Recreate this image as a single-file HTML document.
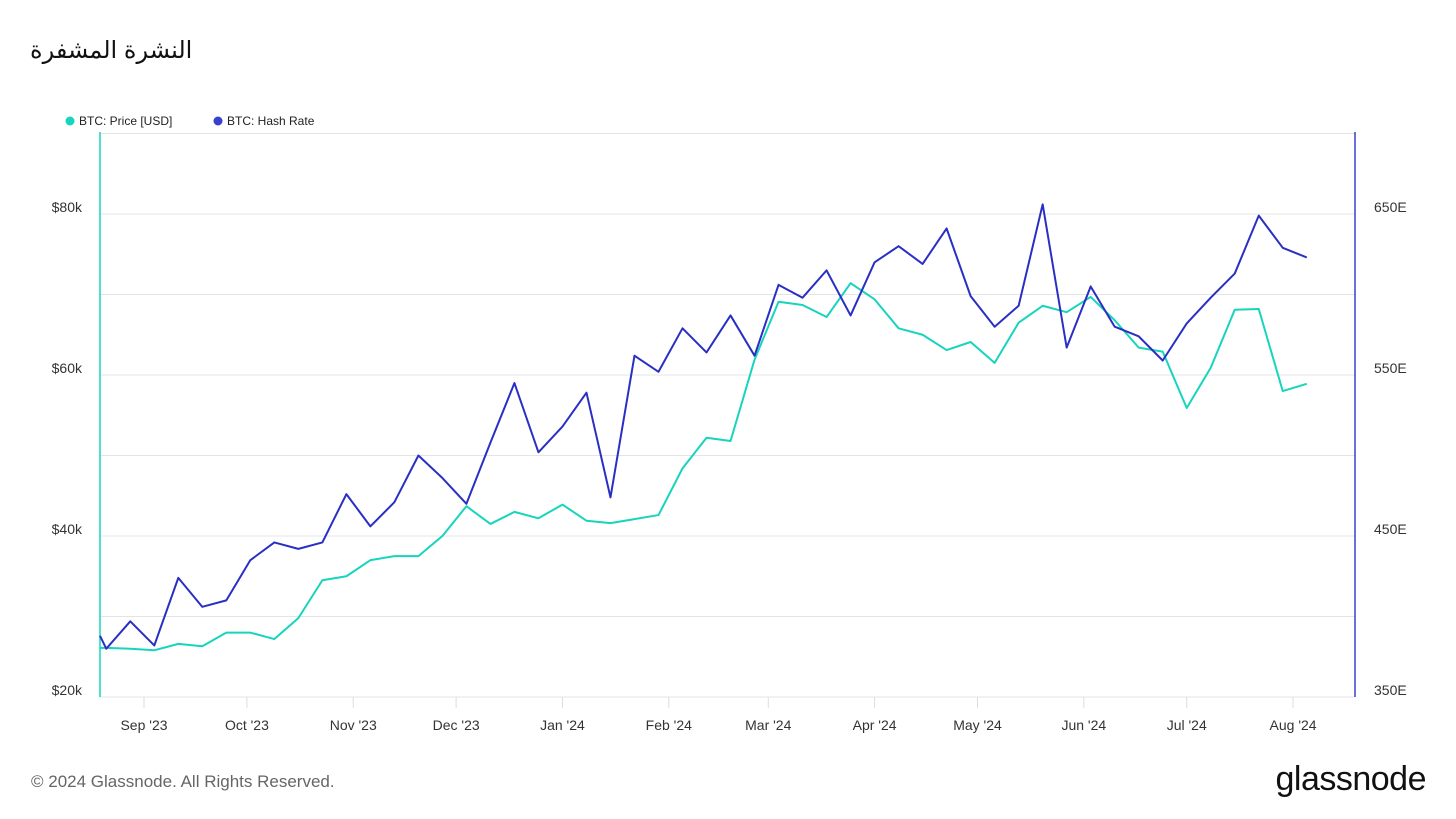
<!DOCTYPE html>
<html><head><meta charset="utf-8">
<style>
body{margin:0;background:#fff;font-family:"Liberation Sans",sans-serif;}
#wrap{position:relative;width:1456px;height:819px;overflow:hidden;}
.title{position:absolute;left:30px;top:36px;font-size:24px;color:#111;font-family:"Liberation Sans","DejaVu Sans",sans-serif;}
.foot{position:absolute;left:31px;top:772px;font-size:17px;color:#666;}
.logo{position:absolute;right:30px;top:760px;font-size:34px;color:#111;letter-spacing:-0.5px;}
</style></head><body>
<div id="wrap">
<div class="title" dir="rtl">النشرة المشفرة</div>
<svg id="svg" width="1456" height="819" style="position:absolute;left:0;top:0"></svg>
<div class="foot">© 2024 Glassnode. All Rights Reserved.</div>
<div class="logo">glassnode</div>
</div>
<script>
const dates=["2023-08-19","2023-08-21","2023-08-28","2023-09-04","2023-09-11","2023-09-18","2023-09-25","2023-10-02","2023-10-09","2023-10-16","2023-10-23","2023-10-30","2023-11-06","2023-11-13","2023-11-20","2023-11-27","2023-12-04","2023-12-11","2023-12-18","2023-12-25","2024-01-01","2024-01-08","2024-01-15","2024-01-22","2024-01-29","2024-02-05","2024-02-12","2024-02-19","2024-02-26","2024-03-04","2024-03-11","2024-03-18","2024-03-25","2024-04-01","2024-04-08","2024-04-15","2024-04-22","2024-04-29","2024-05-06","2024-05-13","2024-05-20","2024-05-27","2024-06-03","2024-06-10","2024-06-17","2024-06-24","2024-07-01","2024-07-08","2024-07-15","2024-07-22","2024-07-29","2024-08-05"];
const price=[26.1,26.1,26.0,25.8,26.6,26.3,28.0,28.0,27.2,29.8,34.5,35.0,37.0,37.5,37.5,40.0,43.7,41.5,43.0,42.2,43.9,41.9,41.6,42.1,42.6,48.4,52.2,51.8,61.9,69.1,68.7,67.2,71.4,69.4,65.8,65.0,63.1,64.1,61.5,66.5,68.6,67.8,69.7,66.8,63.4,62.9,55.9,60.9,68.1,68.2,58.0,58.9];
const hash=[388,380,397,382,424,406,410,435,446,442,446,476,456,471,500,486,470,508,545,502,518,539,474,562,552,579,564,587,562,606,598,615,587,620,630,619,641,599,580,593,656,567,605,580,574,559,582,598,613,649,629,623];
const leftTicks=[20,30,40,50,60,70,80];
const leftLabels=["$20k","","$40k","","$60k","","$80k"];
const rightTicks=[350,450,550,650];
const rightLabels=["350E","450E","550E","650E"];
const months=["2023-09-01","2023-10-01","2023-11-01","2023-12-01","2024-01-01","2024-02-01","2024-03-01","2024-04-01","2024-05-01","2024-06-01","2024-07-01","2024-08-01"];
const monthLabels=["Sep '23","Oct '23","Nov '23","Dec '23","Jan '24","Feb '24","Mar '24","Apr '24","May '24","Jun '24","Jul '24","Aug '24"];

const svg=document.getElementById('svg');const NS="http://www.w3.org/2000/svg";
const X0=100,X1=1355,YT=132,YB=697;
const base=Date.UTC(2023,8,1);
function x(d){const t=Date.parse(d+"T00:00:00Z");return 144+(t-base)/864e5*3.43;}
function yl(v){return 697-(v-20)*8.05;}
function yr(v){return 697-(v-350)*1.61;}
function el(t,a,txt){const e=document.createElementNS(NS,t);for(const k in a)e.setAttribute(k,a[k]);if(txt!==undefined)e.textContent=txt;svg.appendChild(e);return e;}
for(let v=20;v<=90;v+=10){const g=el('line',{x1:X0,x2:X1,y1:yl(v),y2:yl(v),stroke:'#e4e4e4','stroke-width':1});

}
leftTicks.forEach((v,i)=>{if(!leftLabels[i])return;const t=el('text',{x:82,y:yl(v)-2,'text-anchor':'end','font-size':14,fill:'#333'},leftLabels[i]);

});
rightTicks.forEach((v,i)=>{const t=el('text',{x:1374,y:yr(v)-2,'font-size':14,fill:'#333'},rightLabels[i]);

});
months.forEach((m,i)=>{const xx=x(m);const tk=el('line',{x1:xx,x2:xx,y1:YB,y2:YB+11,stroke:'#ddd'});


const t=el('text',{x:xx,y:730,'text-anchor':'middle','font-size':14,fill:'#333'},monthLabels[i]);

});
const la=el('line',{x1:X0,x2:X0,y1:YT,y2:YB,stroke:'#17d4bd','stroke-width':1.5});


const ra=el('line',{x1:X1,x2:X1,y1:YT,y2:YB,stroke:'#3a3fcf','stroke-width':1.5});


const pp=el('polyline',{points:dates.map((d,i)=>Math.max(X0,x(d))+','+yl(price[i])).join(' '),fill:'none',stroke:'#17d4bd','stroke-width':2,'stroke-linejoin':'round'});


const hp=el('polyline',{points:dates.map((d,i)=>Math.max(X0,x(d))+','+yr(hash[i])).join(' '),fill:'none',stroke:'#2a2fc4','stroke-width':2,'stroke-linejoin':'round'});


const c1=el('circle',{cx:70,cy:121,r:4.5,fill:'#17d4bd'});


const l1=el('text',{x:79,y:125,'font-size':12,fill:'#222'},'BTC: Price [USD]');


const c2=el('circle',{cx:218,cy:121,r:4.5,fill:'#3a3fcf'});


const l2=el('text',{x:227,y:125,'font-size':12,fill:'#222'},'BTC: Hash Rate');


</script>
</body></html>
